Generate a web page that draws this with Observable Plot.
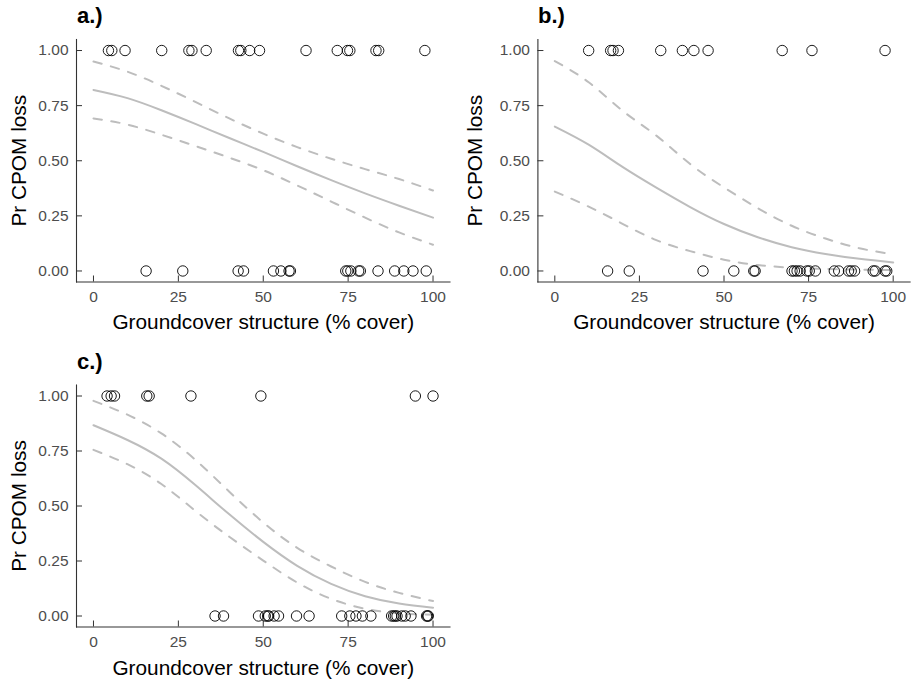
<!DOCTYPE html>
<html><head><meta charset="utf-8">
<script src="https://cdn.jsdelivr.net/npm/d3@7"></script>
<script src="https://cdn.jsdelivr.net/npm/@observablehq/plot@0.6"></script>
<style>
body{margin:0;background:#fff;}
#wrap{position:relative;width:912px;height:686px;font-family:"Liberation Sans",Arial,sans-serif;background:#fff;}
.panel{position:absolute;}
.title{position:absolute;font-weight:bold;font-size:22px;color:#000;line-height:1;white-space:nowrap;}
g[aria-label="x-axis label"], g[aria-label="y-axis label"]{font-size:20.8px; fill:#000;}
</style></head><body><div id="wrap"></div>
<script>
// ---- data ----
const panelLabels = ["a.)", "b.)", "c.)"];
const xLabel = "Groundcover structure (% cover)";
const yLabel = "Pr CPOM loss";
const xTicks = [0, 25, 50, 75, 100];
const yTicks = [0, 0.25, 0.5, 0.75, 1];
const xGrid = [0, 10, 20, 30, 40, 50, 60, 70, 80, 90, 100];

// observed points (groundcover %, outcome 1 = loss, 0 = no loss)
const aLoss = [4.4, 5.4, 9.3, 20.1, 28.1, 29.0, 33.2, 42.7, 43.4, 46.0, 48.9, 62.6, 71.8, 74.8, 75.5, 83.2, 84.0, 97.6];
const aNoLoss = [15.5, 26.3, 42.6, 44.2, 53.0, 55.2, 57.6, 58.0, 74.3, 74.9, 75.8, 78.1, 78.6, 83.8, 88.7, 91.4, 94.1, 98.0];
const bLoss = [10.0, 16.5, 17.2, 18.8, 31.3, 37.7, 41.1, 45.3, 67.2, 76.0, 97.6];
const bNoLoss = [15.6, 22.0, 43.8, 52.9, 58.8, 59.2, 70.1, 70.8, 71.6, 72.5, 74.5, 75.2, 77.0, 82.6, 83.9, 86.8, 87.6, 88.6, 94.1, 94.7, 97.6, 98.1];
const cLoss = [4.0, 5.2, 6.2, 15.7, 16.4, 28.7, 49.3, 94.8, 100];
const cNoLoss = [35.8, 38.3, 48.6, 50.6, 51.3, 51.6, 53.2, 54.5, 59.8, 63.5, 73.1, 75.5, 77.3, 79.2, 81.7, 87.8, 88.4, 88.9, 89.4, 90.8, 91.8, 93.5, 98.1, 98.4, 98.6];

// fitted probability and confidence limits read at xGrid
const aFit   = [0.821, 0.784, 0.729, 0.667, 0.603, 0.540, 0.475, 0.412, 0.352, 0.296, 0.242];
const aUpper = [0.950, 0.904, 0.840, 0.767, 0.692, 0.623, 0.562, 0.509, 0.462, 0.417, 0.365];
const aLower = [0.692, 0.664, 0.618, 0.567, 0.514, 0.457, 0.388, 0.315, 0.242, 0.175, 0.119];
const bFit   = [0.655, 0.573, 0.472, 0.378, 0.290, 0.213, 0.153, 0.108, 0.077, 0.055, 0.039];
const bUpper = [0.952, 0.856, 0.727, 0.614, 0.485, 0.379, 0.285, 0.205, 0.147, 0.103, 0.076];
const bLower = [0.360, 0.292, 0.214, 0.140, 0.090, 0.051, 0.027, 0.015, 0.009, 0.006, 0.004];
const cFit   = [0.867, 0.800, 0.715, 0.595, 0.462, 0.337, 0.228, 0.146, 0.090, 0.057, 0.038];
const cUpper = [0.978, 0.915, 0.830, 0.710, 0.565, 0.425, 0.310, 0.225, 0.155, 0.105, 0.068];
const cLower = [0.755, 0.690, 0.600, 0.478, 0.360, 0.252, 0.152, 0.078, 0.033, 0.012, 0.006];

// ---- drawing ----
const lineColor = "#bdbdbd";
const axisColor = "#333333";
const W = 456, H = 343;

function panel(cfg) {
  const curve = xGrid.map((x, i) => ({x, fit: cfg.fit[i], upper: cfg.upper[i], lower: cfg.lower[i]}));
  const pts = [...cfg.loss.map(x => ({x, y: 1})), ...cfg.noLoss.map(x => ({x, y: 0}))];
  const pw = W - cfg.mL - cfg.mR, ph = H - cfg.mT - cfg.mB;
  return Plot.plot({
    width: W, height: H,
    marginLeft: cfg.mL, marginRight: cfg.mR, marginTop: cfg.mT, marginBottom: cfg.mB,
    style: {fontFamily: '"Liberation Sans", Arial, sans-serif', background: "#fff", overflow: "visible"},
    x: {domain: [-5, 105]},
    y: {domain: [-0.05, 1.05]},
    marks: [
      Plot.frame({anchor: "left", stroke: axisColor, strokeWidth: 1.1}),
      Plot.frame({anchor: "bottom", stroke: axisColor, strokeWidth: 1.1}),
      Plot.tickY(yTicks, {y: d => d, insetRight: pw - 6, stroke: axisColor, strokeWidth: 1}),
      Plot.tickX(xTicks, {x: d => d, insetTop: ph - 6, stroke: axisColor, strokeWidth: 1}),
      Plot.axisY(yTicks, {tickSize: 0, tickPadding: 8, tickFormat: d3.format(".2f"), fontSize: 15.5, color: "#4d4d4d",
        label: yLabel, labelAnchor: "center", labelArrow: "none", labelOffset: cfg.mL - 10.5}),
      Plot.axisX(xTicks, {tickSize: 0, tickPadding: 9, fontSize: 15.5, color: "#4d4d4d",
        label: xLabel, labelAnchor: "center", labelArrow: "none", labelOffset: cfg.xlo}),
      Plot.line(curve, {x: "x", y: "upper", stroke: lineColor, strokeWidth: 2, strokeDasharray: "8.5,9.5", curve: "natural"}),
      Plot.line(curve, {x: "x", y: "lower", stroke: lineColor, strokeWidth: 2, strokeDasharray: "8.5,9.5", curve: "natural"}),
      Plot.line(curve, {x: "x", y: "fit", stroke: lineColor, strokeWidth: 2, curve: "natural"}),
      Plot.dot(pts, {x: "x", y: "y", r: 5.2, stroke: "#000", strokeWidth: 0.9, fill: "none"})
    ]
  });
}

const wrap = document.getElementById("wrap");
const configs = [
  {label: panelLabels[0], left: 0,   top: 0,   mL: 76,   mR: 6.5, mT: 39,   mB: 61.5, xlo: 46.7, tx: 77,  tby: 24,
   fit: aFit, upper: aUpper, lower: aLower, loss: aLoss, noLoss: aNoLoss},
  {label: panelLabels[1], left: 456, top: 0,   mL: 81.4, mR: 2.4, mT: 39,   mB: 61.5, xlo: 46.7, tx: 538, tby: 24,
   fit: bFit, upper: bUpper, lower: bLower, loss: bLoss, noLoss: bNoLoss},
  {label: panelLabels[2], left: 0,   top: 343, mL: 76,   mR: 6.5, mT: 41.5, mB: 59.5, xlo: 48.4, tx: 77,  tby: 369.5,
   fit: cFit, upper: cUpper, lower: cLower, loss: cLoss, noLoss: cNoLoss}
];
for (const cfg of configs) {
  const div = document.createElement("div");
  div.className = "panel";
  div.style.left = cfg.left + "px";
  div.style.top = cfg.top + "px";
  div.appendChild(panel(cfg));
  wrap.appendChild(div);
  const t = document.createElement("div");
  t.className = "title";
  t.textContent = cfg.label;
  t.style.left = cfg.tx + "px";
  t.style.top = (cfg.tby - 18.6) + "px";
  wrap.appendChild(t);
}
</script></body></html>
